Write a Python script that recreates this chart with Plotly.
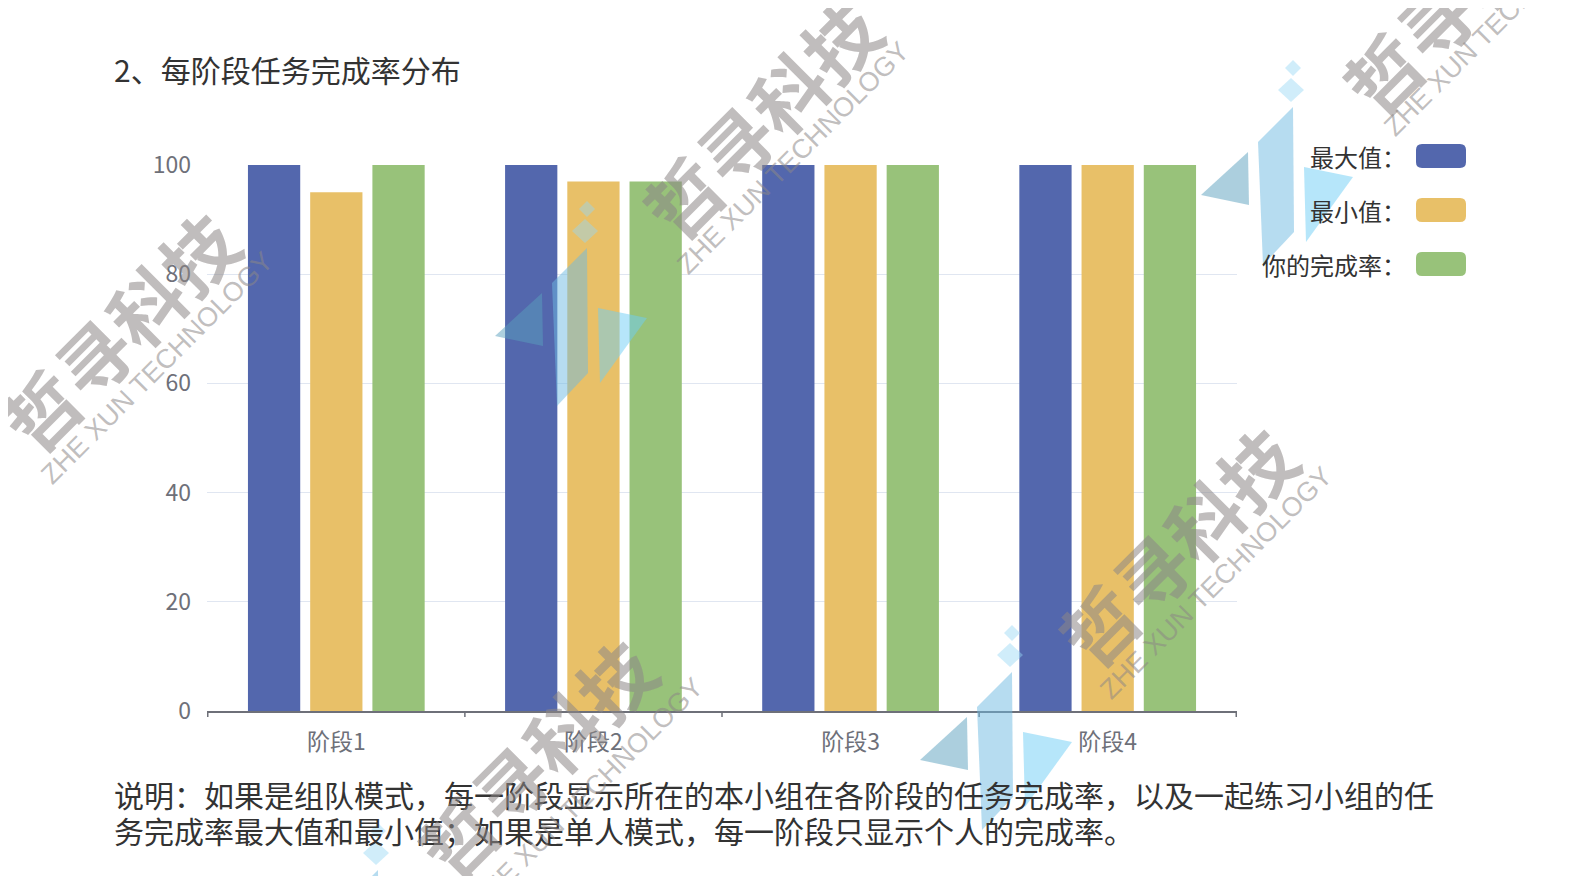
import plotly.graph_objects as go

categories = ["阶段1", "阶段2", "阶段3", "阶段4"]
max_vals = [100, 100, 100, 100]
min_vals = [95, 97, 100, 100]
my_vals = [100, 97, 100, 100]
series_names = ["最大值", "最小值", "你的完成率"]
colors = ["#5367ad", "#e8c068", "#98c27a"]
y_ticks = [0, 20, 40, 60, 80, 100]

FONT = "Noto Sans CJK SC"
W, H = 1582, 876
L, R, T, B = 199, 353, 157, 173
OFF = 8  # default page body margin


def fx(px):
    return (px - OFF - L) / (W - L - R)


def fy(py):
    return ((H - B) - (py - OFF)) / (H - T - B)


def P(px, py):
    return f"{fx(px):.5f},{fy(py):.5f}"


fig = go.Figure()
for name, vals, c in zip(series_names, [max_vals, min_vals, my_vals], colors):
    fig.add_trace(go.Bar(x=categories, y=vals, name=name,
                         marker=dict(color=c, line=dict(width=0)), showlegend=False))

fig.update_layout(
    width=W, height=H,
    paper_bgcolor="white", plot_bgcolor="white",
    margin=dict(l=L, r=R, t=T, b=B),
    barmode="group", bargap=0.274, bargroupgap=0.16,
    font=dict(family=FONT, color="#333"),
    xaxis=dict(showgrid=False, showline=True, linecolor="#6e7079", linewidth=1.5,
               ticks="", tickfont=dict(size=23, color="#6e7079"), ticklabelstandoff=10),
    yaxis=dict(range=[0, 100], tickvals=y_ticks, showgrid=True, gridcolor="#e0e6f1",
               zeroline=False, showline=False, tickfont=dict(size=23, color="#6e7079"),
               ticklabelstandoff=15),
)

# category boundary ticks on x axis
for i in range(len(categories) + 1):
    fig.add_shape(type="line", xref="x", yref="paper", x0=i - 0.5, x1=i - 0.5, y0=0, y1=-0.011,
                  line=dict(color="#6e7079", width=1.5))

# title
fig.add_annotation(text="2、每阶段任务完成率分布", xref="paper", yref="paper", x=fx(112), y=fy(69),
                   xanchor="left", yanchor="middle", showarrow=False,
                   font=dict(size=30, color="#333", family=FONT))

# legend drawn manually (label then rounded swatch)
legend_y = [156, 210, 264]
for name, c, ly in zip(series_names, colors, legend_y):
    x0, x1 = 1416, 1466
    y0, y1 = ly - 12, ly + 12
    r = 6
    path = (f"M {P(x0+r,y0)} L {P(x1-r,y0)} Q {P(x1,y0)} {P(x1,y0+r)} L {P(x1,y1-r)} "
            f"Q {P(x1,y1)} {P(x1-r,y1)} L {P(x0+r,y1)} Q {P(x0,y1)} {P(x0,y1-r)} "
            f"L {P(x0,y0+r)} Q {P(x0,y0)} {P(x0+r,y0)} Z")
    fig.add_shape(type="path", xref="paper", yref="paper", path=path, fillcolor=c, line=dict(width=0))
    fig.add_annotation(text=name + "：", xref="paper", yref="paper", x=fx(1408), y=fy(ly),
                       xanchor="right", yanchor="middle", showarrow=False,
                       font=dict(size=24, color="#333", family=FONT))

# explanation text
note_lines = ["说明：如果是组队模式，每一阶段显示所在的本小组在各阶段的任务完成率，以及一起练习小组的任",
              "务完成率最大值和最小值；如果是单人模式，每一阶段只显示个人的完成率。"]
for line, ly in zip(note_lines, [794, 830]):
    fig.add_annotation(text=line, xref="paper", yref="paper", x=fx(112), y=fy(ly),
                       xanchor="left", yanchor="middle", align="left", showarrow=False,
                       font=dict(size=30, color="#333", family=FONT))

# watermark logos (decorative polygons)
logo_anchors = [(587, 248), (1012, 672), (1293, 107), (378, 870), (-52, 462)]
logo_parts = [
    ([(0, -47), (8, -39), (0, -31), (-8, -39)], "rgba(150,215,245,0.45)"),
    ([(-2, -29), (11, -17), (-2, -5), (-15, -17)], "rgba(150,215,245,0.45)"),
    ([(0, 0), (-35, 35), (-30, 158), (1, 125)], "rgba(110,185,225,0.5)"),
    ([(-45, 45), (-92, 88), (-44, 98)], "rgba(90,160,190,0.5)"),
    ([(11, 60), (60, 70), (13, 135)], "rgba(110,205,245,0.5)"),
]
for ax_, ay_ in logo_anchors:
    for pts, col in logo_parts:
        path = "M " + " L ".join(P(ax_ + dx, ay_ + dy) for dx, dy in pts) + " Z"
        fig.add_shape(type="path", xref="paper", yref="paper", path=path,
                      fillcolor=col, line=dict(width=0))

# watermark text
wm_color = "rgba(140,135,135,0.55)"
wm_main = [(118, 330), (760, 117), (1460, -7), (1176, 545), (535, 757)]
wm_sub = [(157, 368), (793, 158), (1500, 20), (1216, 583), (587, 794)]
for (mx, my) in wm_main:
    fig.add_annotation(text="<b>哲寻科技</b>", xref="paper", yref="paper", x=fx(mx), y=fy(my),
                       xanchor="center", yanchor="middle", showarrow=False, textangle=-45,
                       font=dict(size=74, color=wm_color, family=FONT))
for (sx, sy) in wm_sub:
    fig.add_annotation(text="ZHE XUN TECHNOLOGY", xref="paper", yref="paper", x=fx(sx), y=fy(sy),
                       xanchor="center", yanchor="middle", showarrow=False, textangle=-45,
                       font=dict(size=27, color=wm_color, family="Liberation Sans"))

fig.write_html("out.html")
